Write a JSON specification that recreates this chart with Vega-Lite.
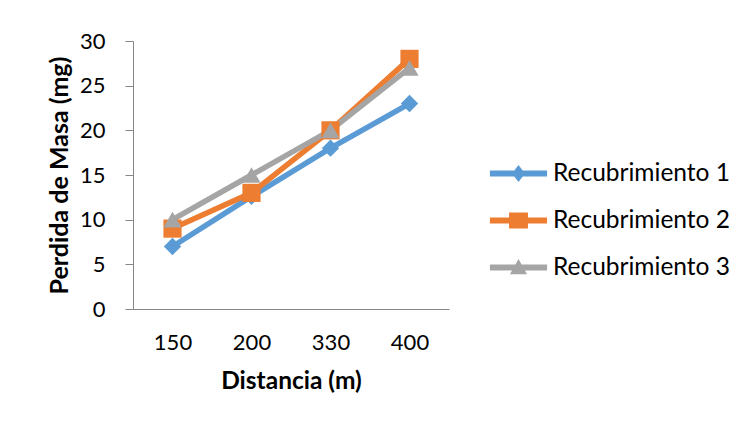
{
  "$schema": "https://vega.github.io/schema/vega-lite/v6.json",
  "width": 316,
  "height": 268,
  "autosize": {"type": "none"},
  "padding": {"left": 133, "top": 41, "right": 293, "bottom": 117},
  "background": "white",
  "config": {
    "view": {"stroke": null},
    "font": "Lato",
    "legend": {"orient": "none", "legendX": 363, "legendY": 110}
  },
  "data": {
    "values": [
      {"distancia": "150", "serie": "Recubrimiento 1", "perdida": 7},
      {"distancia": "200", "serie": "Recubrimiento 1", "perdida": 12.6},
      {"distancia": "330", "serie": "Recubrimiento 1", "perdida": 18},
      {"distancia": "400", "serie": "Recubrimiento 1", "perdida": 23},
      {"distancia": "150", "serie": "Recubrimiento 2", "perdida": 9},
      {"distancia": "200", "serie": "Recubrimiento 2", "perdida": 13},
      {"distancia": "330", "serie": "Recubrimiento 2", "perdida": 20},
      {"distancia": "400", "serie": "Recubrimiento 2", "perdida": 28},
      {"distancia": "150", "serie": "Recubrimiento 3", "perdida": 10},
      {"distancia": "200", "serie": "Recubrimiento 3", "perdida": 15},
      {"distancia": "330", "serie": "Recubrimiento 3", "perdida": 20},
      {"distancia": "400", "serie": "Recubrimiento 3", "perdida": 27}
    ]
  },
  "encoding": {
    "x": {
      "field": "distancia",
      "type": "ordinal",
      "sort": null,
      "scale": {"type": "point", "padding": 0.5},
      "axis": {
        "title": "Distancia (m)",
        "labelAngle": 0,
        "labelFontSize": 22,
        "labelColor": "#000000",
        "labelPadding": 23,
        "ticks": false,
        "tickSize": 0,
        "domainColor": "#868686",
        "domainWidth": 1,
        "grid": false,
        "titleFontSize": 24.5,
        "titleFontWeight": "bold",
        "titleColor": "#000000",
        "titlePadding": 16
      }
    },
    "y": {
      "field": "perdida",
      "type": "quantitative",
      "scale": {"domain": [0, 30], "nice": false, "zero": true},
      "axis": {
        "title": "Perdida de Masa (mg)",
        "values": [0, 5, 10, 15, 20, 25, 30],
        "labelFontSize": 22,
        "labelColor": "#000000",
        "labelPadding": 20,
        "tickSize": 8,
        "tickColor": "#868686",
        "domainColor": "#868686",
        "domainWidth": 1,
        "grid": false,
        "titleFontSize": 25,
        "titleFontWeight": "bold",
        "titleColor": "#000000",
        "titlePadding": 7
      }
    },
    "color": {
      "field": "serie",
      "type": "nominal",
      "scale": {
        "domain": ["Recubrimiento 1", "Recubrimiento 2", "Recubrimiento 3"],
        "range": ["#5B9BD5", "#ED7D31", "#A5A5A5"]
      },
      "legend": {
        "title": null,
        "labelFontSize": 24.5,
        "labelColor": "#000000",
        "symbolSize": 2025,
        "labelOffset": 12,
        "rowPadding": 13,
        "padding": 0,
        "labelLimit": 400,
        "encode": {
          "symbols": {
            "update": {
              "shape": {"signal": "datum.value == 'Recubrimiento 1' ? 'M-1.27,-0.13L1.27,-0.13L1.27,0.13L-1.27,0.13ZM0,-0.38L0.29,0L0,0.38L-0.29,0Z' : datum.value == 'Recubrimiento 2' ? 'M-1.27,-0.13L1.27,-0.13L1.27,0.13L-1.27,0.13ZM-0.42,-0.36L0.42,-0.36L0.42,0.36L-0.42,0.36Z' : 'M-1.27,-0.13L1.27,-0.13L1.27,0.13L-1.27,0.13ZM0,-0.38L0.38,0.3L-0.38,0.3Z'"},
              "fill": {"scale": "color", "field": "value"},
              "fillOpacity": {"value": 1},
              "stroke": {"value": "transparent"},
              "strokeWidth": {"value": 0},
              "opacity": {"value": 1}
            }
          }
        }
      }
    }
  },
  "layer": [
    {"mark": {"type": "line", "strokeWidth": 5.5}},
    {
      "transform": [{"filter": "datum.serie == 'Recubrimiento 1'"}],
      "mark": {"type": "point", "filled": true, "size": 300, "opacity": 1, "shape": "diamond"}
    },
    {
      "transform": [{"filter": "datum.serie == 'Recubrimiento 2'"}],
      "mark": {"type": "point", "filled": true, "size": 330, "opacity": 1, "shape": "square"}
    },
    {
      "transform": [{"filter": "datum.serie == 'Recubrimiento 3'"}],
      "mark": {"type": "point", "filled": true, "size": 330, "opacity": 1, "shape": "triangle-up"}
    }
  ]
}
